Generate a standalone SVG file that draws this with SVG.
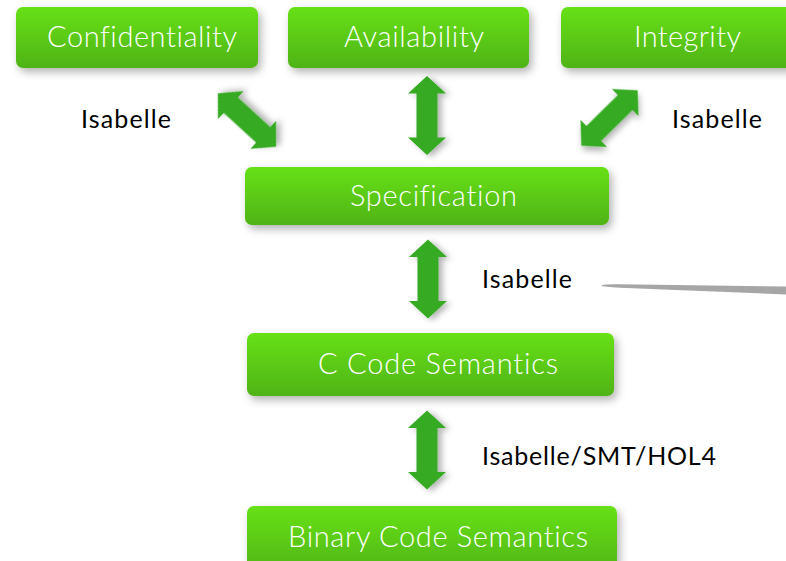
<svg xmlns="http://www.w3.org/2000/svg" width="786" height="561" viewBox="0 0 786 561">
<defs>
<linearGradient id="g" x1="0" y1="0" x2="0" y2="1">
<stop offset="0" stop-color="#67e116"/>
<stop offset="1" stop-color="#4fb313"/>
</linearGradient>
<filter id="sh" x="-10%" y="-30%" width="130%" height="170%">
<feDropShadow dx="3" dy="4" stdDeviation="4" flood-color="#000" flood-opacity="0.3"/>
</filter>
<filter id="ash" x="-50%" y="-20%" width="200%" height="140%">
<feDropShadow dx="4" dy="2" stdDeviation="3" flood-color="#000" flood-opacity="0.3"/>
</filter>
<path id="arr" d="M0,-39.5 L19,-22 L10.5,-22 L10.5,22 L19,22 L0,39.5 L-19,22 L-10.5,22 L-10.5,-22 L-19,-22 Z"/>
</defs>
<style>
.box{fill:url(#g);filter:url(#sh)}
.bt{font-family:Lato,"Open Sans","Liberation Sans",sans-serif;font-weight:300;font-size:29px;fill:#fff;text-anchor:middle;font-variant-ligatures:none}
.lb{font-family:Lato,"Open Sans","Liberation Sans",sans-serif;font-weight:400;font-size:25px;fill:#000}
.ar{fill:#35aa24;filter:url(#ash)}
</style>
<rect width="786" height="561" fill="#fff"/>
<g id="connectors">
<use href="#arr" class="ar" transform="translate(247,120) rotate(-47.5)"/>
<use href="#arr" class="ar" transform="translate(427,115.5)"/>
<use href="#arr" class="ar" transform="translate(609.5,118) rotate(45.5)"/>
<use href="#arr" class="ar" transform="translate(428,279)"/>
<use href="#arr" class="ar" transform="translate(427,450)"/>
<path d="M601,285.5 Q603,284 620,284.3 L786,286.5 L786,294.5 L620,287.8 Q603,287 601,285.5 Z" fill="#a6a6a6"/>
</g>
<g id="confidentiality"><rect class="box" x="16" y="7" width="242" height="61" rx="7"/><text class="bt" x="142" y="47" textLength="190" lengthAdjust="spacing">Confidentiality</text></g>
<g id="availability"><rect class="box" x="288" y="7" width="241" height="61" rx="7"/><text class="bt" x="414" y="47" textLength="140" lengthAdjust="spacing">Availability</text></g>
<g id="integrity"><rect class="box" x="561" y="7" width="240" height="61" rx="7"/><text class="bt" x="687.5" y="47" textLength="107" lengthAdjust="spacing">Integrity</text></g>
<g id="specification"><rect class="box" x="245" y="167" width="364" height="58" rx="7"/><text class="bt" x="433.5" y="206" textLength="167" lengthAdjust="spacing">Specification</text></g>
<g id="ccode"><rect class="box" x="247" y="333" width="367" height="63" rx="7"/><text class="bt" x="438" y="374" textLength="240" lengthAdjust="spacing">C Code Semantics</text></g>
<g id="binary"><rect class="box" x="247" y="506" width="370" height="70" rx="7"/><text class="bt" x="438" y="547" textLength="300" lengthAdjust="spacing">Binary Code Semantics</text></g>
<g id="labels">
<text class="lb" x="81" y="128" textLength="90" lengthAdjust="spacing">Isabelle</text>
<text class="lb" x="672" y="128" textLength="90" lengthAdjust="spacing">Isabelle</text>
<text class="lb" x="482" y="288" textLength="90" lengthAdjust="spacing">Isabelle</text>
<text class="lb" x="482" y="465" textLength="234" lengthAdjust="spacing">Isabelle/SMT/HOL4</text>
</g>
</svg>
